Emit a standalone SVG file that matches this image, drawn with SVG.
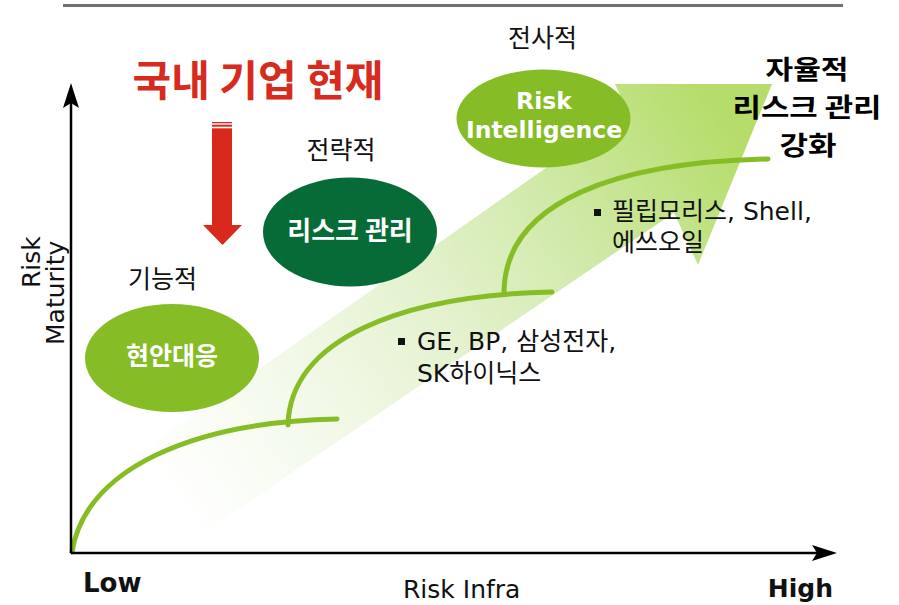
<svg xmlns="http://www.w3.org/2000/svg" width="899" height="605" viewBox="0 0 899 605">
  <defs>
    <linearGradient id="bandGrad" gradientUnits="userSpaceOnUse" x1="170" y1="495" x2="720" y2="120">
      <stop offset="0" stop-color="#ffffff"/>
      <stop offset="0.225" stop-color="#f4faec"/>
      <stop offset="0.487" stop-color="#e4f2cf"/>
      <stop offset="0.708" stop-color="#d1eaab"/>
      <stop offset="1" stop-color="#b6dd6b"/>
    </linearGradient>
    <style>
      .kr { font-family: "Noto Sans CJK KR", sans-serif; }
      .lat { font-family: "DejaVu Sans", "Noto Sans CJK KR", sans-serif; }
      .label { font-size: 25px; fill: #111111; text-anchor: middle; }
      .white { fill: #ffffff; font-weight: bold; text-anchor: middle; }
      .body { font-size: 25px; fill: #111111; }
      .bullet { fill: #111111; }
      .curve { fill: none; stroke: #86bc25; stroke-width: 5; stroke-linecap: round; }
      .axis { stroke: #000000; stroke-width: 2.5; fill: none; }
      .head { fill: #000000; }
      .lime { fill: #86bc25; }
      .red { fill: #d9281c; }
    </style>
  </defs>

  <rect width="899" height="605" fill="#ffffff"/>

  <!-- header rule -->
  <line x1="63" y1="5.5" x2="843" y2="5.5" stroke="#707070" stroke-width="3"/>

  <!-- big gradient arrow -->
  <polygon id="growth-arrow" points="142,451 627.3,110.9 615,84 772,84 698,265 674,212.7 200,535" fill="url(#bandGrad)"/>

  <!-- connectors: maturity curves -->
  <g id="connectors">
    <path class="curve" d="M72,552 C85,470 190,422 337,419"/>
    <path class="curve" d="M288,425 C290,340 400,295 552,292"/>
    <path class="curve" d="M504,292 C505,200 620,162 768,159"/>
  </g>

  <!-- axes -->
  <g id="axes">
    <line class="axis" x1="71" y1="553" x2="71" y2="100"/>
    <path class="head" d="M71,83 L79,108 L71,103 L63,108 Z"/>
    <line class="axis" x1="71" y1="553" x2="820" y2="553"/>
    <path class="head" d="M837,553 L812,545 L817,553 L812,561 Z"/>
  </g>

  <!-- nodes -->
  <g id="node-hyunan">
    <ellipse class="lime" cx="172" cy="358" rx="87" ry="54"/>
    <text class="kr white" x="172" y="365" font-size="25">현안대응</text>
  </g>
  <g id="node-riskmgmt">
    <ellipse cx="350" cy="232" rx="87" ry="54.5" fill="#066b37"/>
    <text class="kr white" x="350" y="240" font-size="26">리스크 관리</text>
  </g>
  <g id="node-riskintel">
    <ellipse class="lime" cx="543.5" cy="118.5" rx="87" ry="49"/>
    <text class="white" x="544" y="109" font-size="23.5" font-family="DejaVu Sans, sans-serif">Risk</text>
    <text class="white" x="544" y="138" font-size="23.5" font-family="DejaVu Sans, sans-serif">Intelligence</text>
  </g>

  <!-- stage labels -->
  <g id="stage-labels">
    <text class="kr label" x="162.5" y="288">기능적</text>
    <text class="kr label" x="341" y="159">전략적</text>
    <text class="kr label" x="542.5" y="47">전사적</text>
  </g>

  <!-- current status -->
  <g id="current-status">
    <text class="kr" x="258" y="96" font-size="42" font-weight="bold" fill="#d62b1e" text-anchor="middle">국내 기업 현재</text>
    <rect class="red" x="212" y="122" width="20" height="1.3"/>
    <rect class="red" x="212" y="124.7" width="20" height="2"/>
    <rect class="red" x="212" y="128.3" width="20" height="97"/>
    <polygon class="red" points="203,225 242,225 222.5,245"/>
  </g>

  <!-- goal -->
  <g id="goal" class="kr" font-size="26" font-weight="bold" fill="#000000" text-anchor="middle">
    <text x="807" y="79" textLength="83" lengthAdjust="spacingAndGlyphs">자율적</text>
    <text x="807" y="117" textLength="149" lengthAdjust="spacingAndGlyphs">리스크 관리</text>
    <text x="808" y="155" textLength="57" lengthAdjust="spacingAndGlyphs">강화</text>
  </g>

  <!-- examples -->
  <g id="examples-1">
    <rect class="bullet" x="398" y="338" width="7" height="7"/>
    <text class="lat body" x="417" y="350">GE, BP, 삼성전자,</text>
    <text class="lat body" x="417" y="382">SK하이닉스</text>
  </g>
  <g id="examples-2">
    <rect class="bullet" x="594" y="209" width="7" height="7"/>
    <text class="lat body" x="612" y="220">필립모리스, Shell,</text>
    <text class="lat body" x="612" y="251">에쓰오일</text>
  </g>

  <!-- axis labels -->
  <g id="axis-labels" class="lat" fill="#111111">
    <text x="83" y="592" font-size="26" font-weight="bold">Low</text>
    <text x="833" y="597" font-size="25" font-weight="bold" text-anchor="end">High</text>
    <text x="403" y="598" font-size="25">Risk Infra</text>
    <text transform="translate(40,288) rotate(-90)" font-size="25">Risk</text>
    <text transform="translate(64,345) rotate(-90)" font-size="25">Maturity</text>
  </g>
</svg>
